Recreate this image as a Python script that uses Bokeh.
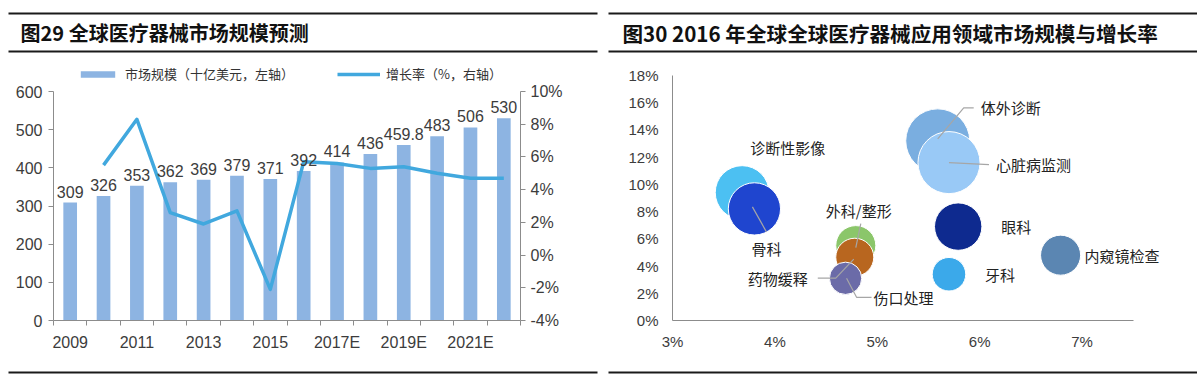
import numpy as np
from bokeh.plotting import figure
from bokeh.models import (Range1d, LinearAxis, FixedTicker, PrintfTickFormatter,
                          Legend, LegendItem)
from bokeh.layouts import row, column
from bokeh.embed import file_html
from bokeh.resources import INLINE
from bokeh.core.properties import value

# ---------------- data ----------------
years = ["2009", "2010", "2011", "2012", "2013", "2014", "2015", "2016",
         "2017E", "2018E", "2019E", "2020E", "2021E", "2022E"]
market_size = [309, 326, 353, 362, 369, 379, 371, 392, 414, 436, 459.8, 483, 506, 530]
growth_years = years[1:]
growth_rate = [5.5, 8.3, 2.6, 1.9, 2.7, -2.1, 5.7, 5.6, 5.3, 5.4, 5.0, 4.7, 4.7]

segments = ["诊断性影像", "骨科", "外科/整形", "药物缓释", "伤口处理",
            "体外诊断", "心脏病监测", "眼科", "牙科", "内窥镜检查"]
seg_x = [3.68, 3.80, 4.79, 4.78, 4.69, 5.59, 5.70, 5.79, 5.70, 6.79]
seg_y = [9.4, 8.2, 5.5, 4.65, 3.1, 13.2, 11.6, 6.9, 3.4, 4.8]
seg_size = [36, 34, 20, 18, 13, 51, 48, 28, 14, 20]

titles = ["图29 全球医疗器械市场规模预测",
          "图30 2016 年全球全球医疗器械应用领域市场规模与增长率"]

# ---------------- styles ----------------
FONT = "Liberation Sans"
CJK = "Noto Sans CJK SC"
AXIS_C = "#8c8c8c"
TXT_C = "#3c3c3c"
BAR_C = "#8db4e2"
LINE_C = "#41a8de"
RULE_C = "#1a1a1a"
seg_colors = ["#4cc0f2", "#1f45cf", "#8bc66a", "#b8661f", "#6b6ba8",
              "#7aaee0", "#99c9f6", "#0e2a8f", "#3ba9ea", "#5b86b2"]
lab_dx = [8, -3, -30, -107, 28, 43, 47, 43, 36, 24]
lab_dy = [-45, 40, -35, 21, 19, -33, 2, 0, 0, 0]
leaders = {
    "骨科": [(-2, -2), (12, 23)],
    "外科/整形": [(5, -22), (0, 2)],
    "药物缓释": [(-37, 21), (-19, 21), (-1, 2)],
    "伤口处理": [(1, 0), (11, 19), (26, 19)],
    "体外诊断": [(0, -2), (26, -33), (36, -33)],
    "心脏病监测": [(0, 0), (40, 2)],
}

TOTAL_W = 1197
HEAD_H, MAIN_H, FOOT_H = 60, 308, 17
W1, W2 = 600, 597

def bare(width, height):
    p = figure(width=width, height=height, output_backend="svg", toolbar_location=None,
               x_range=Range1d(0, width), y_range=Range1d(height, 0),
               x_axis_type=None, y_axis_type=None, min_border=0)
    p.outline_line_color = None
    p.background_fill_color = None
    p.border_fill_color = None
    return p

# ---------------- header ----------------
head = bare(TOTAL_W, HEAD_H)
head.quad(left=[8, 608, 8, 608], right=[597, TOTAL_W, 597, TOTAL_W],
          top=[12, 12, 50, 50], bottom=[14, 14, 52, 52],
          fill_color=RULE_C, line_color=None)
head.text(x=[20], y=[32], text=[titles[0]], text_baseline="middle",
          text_font=value(CJK), text_font_style="bold", text_font_size="20px",
          text_color="#111111")
head.text(x=[622], y=[32], text=[titles[1]], text_baseline="middle",
          text_font=value(CJK), text_font_style="bold", text_font_size="20.6px",
          text_color="#111111")

# ---------------- footer ----------------
foot = bare(TOTAL_W, FOOT_H)
foot.quad(left=[8, 608], right=[597, TOTAL_W], top=[3, 3], bottom=[5, 5],
          fill_color=RULE_C, line_color=None)

# ---------------- left: bar + line ----------------
L_FL, L_FR, L_FT, L_FB = 53, 520, 2, 260
Y_TOP_PX, Y_ZERO_PX = 31, 260      # where 600 / 0 sit
lmax = 600 * (L_FB - L_FT) / (Y_ZERO_PX - Y_TOP_PX)
gmin, gmax = -4, 10
g_top = gmin + (gmax - gmin) * (L_FB - L_FT) / (Y_ZERO_PX - Y_TOP_PX)

p1 = figure(width=W1, height=MAIN_H, output_backend="svg", toolbar_location=None,
            x_range=Range1d(-0.5, len(years) - 0.5), y_range=Range1d(0, lmax),
            min_border_left=L_FL, min_border_right=W1 - L_FR,
            min_border_top=L_FT, min_border_bottom=MAIN_H - L_FB)
p1.grid.visible = False
p1.outline_line_color = None
p1.background_fill_color = None
p1.border_fill_color = None

xi = list(range(len(years)))
p1.xaxis.ticker = FixedTicker(ticks=xi[::2], minor_ticks=[i - 0.5 for i in range(len(years) + 1)])
p1.xaxis.major_label_overrides = {i: years[i] for i in xi[::2]}
p1.xaxis.major_tick_out = 0
p1.xaxis.major_tick_in = 0
p1.xaxis.minor_tick_out = 5
p1.xaxis.minor_tick_in = 0
p1.xaxis.major_label_standoff = 8

p1.yaxis.ticker = FixedTicker(ticks=list(range(0, 601, 100)))
p1.yaxis.bounds = (0, 600)
p1.yaxis.major_tick_out = 5
p1.yaxis.major_tick_in = 0
p1.yaxis.minor_tick_out = 0
p1.yaxis.minor_tick_in = 0
p1.yaxis.major_label_standoff = 6

p1.extra_y_ranges = {"g": Range1d(gmin, g_top)}
ax_r = LinearAxis(y_range_name="g", ticker=FixedTicker(ticks=list(range(gmin, gmax + 1, 2))),
                  formatter=PrintfTickFormatter(format="%d%%"), bounds=(gmin, gmax))
ax_r.major_tick_out = 5
ax_r.major_tick_in = 0
ax_r.minor_tick_out = 0
ax_r.minor_tick_in = 0
ax_r.major_label_standoff = 5
p1.add_layout(ax_r, "right")

for ax in p1.axis:
    ax.axis_line_color = AXIS_C
    ax.major_tick_line_color = AXIS_C
    ax.minor_tick_line_color = AXIS_C
    ax.major_label_text_font = FONT
    ax.major_label_text_font_size = "16px"
    ax.major_label_text_color = TXT_C

bars = p1.vbar(x=xi, top=market_size, width=0.41, fill_color=BAR_C, line_color=None)
gx = [years.index(y) for y in growth_years]
line = p1.line(x=gx, y=growth_rate, y_range_name="g", line_color=LINE_C,
               line_width=3.5, line_join="round")
p1.text(x=xi, y=market_size, text=[f"{v:g}" for v in market_size],
        text_align="center", text_baseline="bottom", y_offset=-5,
        text_font=value(FONT), text_font_size="16px", text_color=TXT_C)

legend = Legend(items=[LegendItem(label="市场规模（十亿美元，左轴）", renderers=[bars]),
                       LegendItem(label="增长率（%，右轴）", renderers=[line])],
                orientation="horizontal", location=(23, 237),
                glyph_width=43, glyph_height=8, label_standoff=6, spacing=43,
                padding=0, margin=0, border_line_color=None, background_fill_alpha=0,
                label_text_font=CJK, label_text_font_size="13px", label_text_color="#333333")
p1.add_layout(legend)

# ---------------- right: bubble ----------------
R_FL, R_FT, R_FB = 72, 2, 260
KX = 102.4                # px per 1 %
TOP18_PX = 15             # where 18% sits
x0, xb1 = 3, 7.5
y0, yb1 = 0, 18
x1 = x0 + (W2 - R_FL) / KX
KY = (R_FB - TOP18_PX) / (yb1 - y0)
y1 = yb1 + (TOP18_PX - R_FT) / KY

p2 = figure(width=W2, height=MAIN_H, output_backend="svg", toolbar_location=None,
            x_range=Range1d(x0, x1), y_range=Range1d(y0, y1),
            min_border_left=R_FL, min_border_right=0,
            min_border_top=R_FT, min_border_bottom=MAIN_H - R_FB)
p2.grid.visible = False
p2.outline_line_color = None
p2.background_fill_color = None
p2.border_fill_color = None
p2.xaxis.ticker = FixedTicker(ticks=[3, 4, 5, 6, 7])
p2.xaxis.bounds = (x0, xb1)
p2.yaxis.ticker = FixedTicker(ticks=list(range(0, 19, 2)))
p2.yaxis.bounds = (y0, yb1)
for ax in p2.axis:
    ax.formatter = PrintfTickFormatter(format="%d%%")
    ax.axis_line_color = AXIS_C
    ax.major_tick_out = 0
    ax.major_tick_in = 0
    ax.minor_tick_out = 0
    ax.minor_tick_in = 0
    ax.major_label_text_font = FONT
    ax.major_label_text_font_size = "15px"
    ax.major_label_text_color = TXT_C
p2.xaxis.major_label_standoff = 12
p2.yaxis.major_label_standoff = 14

diam = 8.96 * np.sqrt(np.array(seg_size, dtype=float))
p2.scatter(x=seg_x, y=seg_y, size=diam, fill_color=seg_colors, fill_alpha=1,
           line_color="white", line_width=1)

xs, ys = [], []
for name, pts in leaders.items():
    i = segments.index(name)
    xs.append([seg_x[i] + dx / KX for dx, dy in pts])
    ys.append([seg_y[i] - dy / KY for dx, dy in pts])
p2.multi_line(xs=xs, ys=ys, line_color="#a6a6a6", line_width=1.2)

p2.text(x=seg_x, y=seg_y, text=segments, x_offset=lab_dx, y_offset=lab_dy,
        text_align="left", text_baseline="middle",
        text_font=value(CJK), text_font_size="15px", text_color="#222222")

layout = column(head, row(p1, p2), foot)
open("out.html", "w").write(file_html(layout, INLINE))
